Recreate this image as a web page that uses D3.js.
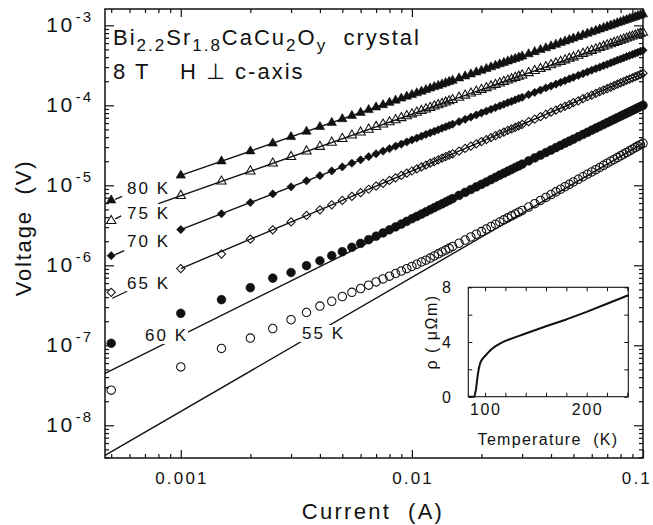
<!DOCTYPE html>
<html>
<head>
<meta charset="utf-8">
<script src="https://cdn.jsdelivr.net/npm/d3@7"></script>
<style>
  body { margin: 0; background: #fff; }
  svg text { font-family: "Liberation Sans", Arial, Helvetica, sans-serif; fill: #111; }
</style>
</head>
<body>
<svg id="chart" width="653" height="525"></svg>
<script>
// ---- data ----
var currents = [0.0005,0.001,0.0015,0.002,0.0025,0.003,0.0035,0.004,0.0045,0.005,
  0.0055,0.006,0.0065,0.007,0.0075,0.008,0.0085,0.009,0.0095,0.01,
  0.0105,0.011,0.0115,0.012,0.0125,0.013,0.0135,0.014,0.0145,0.015,
  0.016,0.017,0.018,0.019,0.02,0.021,0.022,0.023,0.024,0.025,
  0.026,0.027,0.028,0.029,0.03,0.032,0.034,0.036,0.038,0.04,
  0.042,0.044,0.046,0.048,0.05,0.0525,0.055,0.0575,0.06,0.0625,
  0.065,0.0675,0.07,0.0725,0.075,0.0775,0.08,0.0825,0.085,0.0875,
  0.09,0.0925,0.095,0.0975,0.1]

var v80 = [6.5e-6,1.33e-5,2.00e-5,2.67e-5,3.35e-5,4.03e-5,4.70e-5,5.38e-5,6.06e-5,6.74e-5,
  7.41e-5,8.09e-5,8.77e-5,9.46e-5,1.01e-4,1.08e-4,1.15e-4,1.22e-4,1.29e-4,1.35e-4,
  1.42e-4,1.49e-4,1.56e-4,1.63e-4,1.70e-4,1.76e-4,1.83e-4,1.90e-4,1.97e-4,2.04e-4,
  2.18e-4,2.31e-4,2.45e-4,2.59e-4,2.72e-4,2.86e-4,3.00e-4,3.14e-4,3.27e-4,3.41e-4,
  3.55e-4,3.69e-4,3.82e-4,3.96e-4,4.10e-4,4.37e-4,4.65e-4,4.93e-4,5.20e-4,5.48e-4,
  5.75e-4,6.03e-4,6.31e-4,6.58e-4,6.86e-4,7.20e-4,7.55e-4,7.90e-4,8.24e-4,8.59e-4,
  8.93e-4,9.28e-4,9.63e-4,9.97e-4,1.03e-3,1.07e-3,1.10e-3,1.14e-3,1.17e-3,1.21e-3,
  1.24e-3,1.27e-3,1.31e-3,1.34e-3,1.38e-3]

var v75 = [3.6e-6,7.4e-6,1.12e-5,1.50e-5,1.88e-5,2.27e-5,2.66e-5,3.04e-5,3.43e-5,3.82e-5,
  4.21e-5,4.60e-5,4.99e-5,5.39e-5,5.78e-5,6.17e-5,6.56e-5,6.96e-5,7.35e-5,7.75e-5,
  8.14e-5,8.54e-5,8.93e-5,9.33e-5,9.73e-5,1.01e-4,1.05e-4,1.09e-4,1.13e-4,1.17e-4,
  1.25e-4,1.33e-4,1.41e-4,1.49e-4,1.57e-4,1.65e-4,1.73e-4,1.81e-4,1.89e-4,1.97e-4,
  2.05e-4,2.13e-4,2.21e-4,2.29e-4,2.38e-4,2.54e-4,2.70e-4,2.86e-4,3.02e-4,3.19e-4,
  3.35e-4,3.51e-4,3.67e-4,3.84e-4,4.00e-4,4.20e-4,4.41e-4,4.61e-4,4.82e-4,5.02e-4,
  5.23e-4,5.43e-4,5.64e-4,5.84e-4,6.05e-4,6.25e-4,6.46e-4,6.67e-4,6.87e-4,7.08e-4,
  7.28e-4,7.49e-4,7.70e-4,7.90e-4,8.11e-4]

var v70 = [1.32e-6,2.80e-6,4.41e-6,6.09e-6,7.81e-6,9.58e-6,1.14e-5,1.32e-5,1.51e-5,1.70e-5,
  1.89e-5,2.08e-5,2.28e-5,2.48e-5,2.67e-5,2.87e-5,3.08e-5,3.28e-5,3.48e-5,3.69e-5,
  3.90e-5,4.11e-5,4.32e-5,4.53e-5,4.74e-5,4.95e-5,5.17e-5,5.38e-5,5.60e-5,5.81e-5,
  6.25e-5,6.69e-5,7.13e-5,7.57e-5,8.02e-5,8.47e-5,8.93e-5,9.38e-5,9.84e-5,1.03e-4,
  1.08e-4,1.12e-4,1.17e-4,1.22e-4,1.26e-4,1.36e-4,1.45e-4,1.55e-4,1.65e-4,1.74e-4,
  1.84e-4,1.94e-4,2.04e-4,2.14e-4,2.24e-4,2.36e-4,2.49e-4,2.62e-4,2.75e-4,2.87e-4,
  3.00e-4,3.13e-4,3.26e-4,3.39e-4,3.53e-4,3.66e-4,3.79e-4,3.92e-4,4.06e-4,4.19e-4,
  4.32e-4,4.46e-4,4.59e-4,4.73e-4,4.87e-4]

var v65 = [4.6e-7,9.1e-7,1.38e-6,2.12e-6,2.78e-6,3.48e-6,4.20e-6,4.94e-6,5.70e-6,6.48e-6,
  7.28e-6,8.10e-6,8.93e-6,9.77e-6,1.06e-5,1.15e-5,1.24e-5,1.33e-5,1.42e-5,1.51e-5,
  1.60e-5,1.70e-5,1.79e-5,1.89e-5,1.98e-5,2.08e-5,2.18e-5,2.28e-5,2.38e-5,2.48e-5,
  2.68e-5,2.89e-5,3.09e-5,3.30e-5,3.52e-5,3.73e-5,3.95e-5,4.17e-5,4.39e-5,4.62e-5,
  4.85e-5,5.07e-5,5.30e-5,5.54e-5,5.77e-5,6.24e-5,6.72e-5,7.21e-5,7.70e-5,8.20e-5,
  8.70e-5,9.21e-5,9.72e-5,1.02e-4,1.08e-4,1.14e-4,1.21e-4,1.28e-4,1.34e-4,1.41e-4,
  1.48e-4,1.55e-4,1.62e-4,1.69e-4,1.76e-4,1.84e-4,1.91e-4,1.98e-4,2.06e-4,2.13e-4,
  2.20e-4,2.28e-4,2.35e-4,2.43e-4,2.51e-4]

var v60 = [1.06e-7,2.51e-7,3.72e-7,5.25e-7,6.92e-7,8.13e-7,9.89e-7,1.14e-6,1.32e-6,1.48e-6,
  1.68e-6,1.88e-6,2.09e-6,2.31e-6,2.54e-6,2.78e-6,3.02e-6,3.28e-6,3.54e-6,3.82e-6,
  4.09e-6,4.37e-6,4.66e-6,4.95e-6,5.25e-6,5.56e-6,5.86e-6,6.18e-6,6.50e-6,6.82e-6,
  7.48e-6,8.16e-6,8.86e-6,9.57e-6,1.03e-5,1.10e-5,1.18e-5,1.26e-5,1.34e-5,1.42e-5,
  1.50e-5,1.58e-5,1.67e-5,1.75e-5,1.84e-5,2.02e-5,2.20e-5,2.38e-5,2.57e-5,2.76e-5,
  2.96e-5,3.16e-5,3.36e-5,3.57e-5,3.78e-5,4.05e-5,4.32e-5,4.60e-5,4.89e-5,5.17e-5,
  5.47e-5,5.76e-5,6.07e-5,6.37e-5,6.68e-5,7.00e-5,7.32e-5,7.64e-5,7.97e-5,8.30e-5,
  8.63e-5,8.97e-5,9.32e-5,9.66e-5,1.00e-4]

var v55 = [2.75e-8,5.37e-8,9.12e-8,1.23e-7,1.62e-7,2.09e-7,2.57e-7,3.09e-7,3.55e-7,4.07e-7,
  4.59e-7,5.12e-7,5.65e-7,6.20e-7,6.76e-7,7.32e-7,7.90e-7,8.48e-7,9.08e-7,9.68e-7,
  1.03e-6,1.10e-6,1.16e-6,1.23e-6,1.31e-6,1.39e-6,1.47e-6,1.55e-6,1.63e-6,1.72e-6,
  1.89e-6,2.07e-6,2.26e-6,2.45e-6,2.64e-6,2.84e-6,3.05e-6,3.26e-6,3.48e-6,3.70e-6,
  3.92e-6,4.15e-6,4.38e-6,4.62e-6,4.86e-6,5.35e-6,5.90e-6,6.47e-6,7.06e-6,7.67e-6,
  8.29e-6,8.94e-6,9.60e-6,1.03e-5,1.10e-5,1.19e-5,1.28e-5,1.38e-5,1.47e-5,1.57e-5,
  1.67e-5,1.78e-5,1.89e-5,2.00e-5,2.11e-5,2.22e-5,2.34e-5,2.46e-5,2.58e-5,2.70e-5,
  2.83e-5,2.96e-5,3.09e-5,3.22e-5,3.35e-5]

// straight power-law fits, [current, voltage] end points
var fit80 = [[0.001, 1.33e-5], [0.1, 1.38e-3]]
var fit75 = [[0.0008, 5.9e-6], [0.1, 8.11e-4]]
var fit70 = [[0.001, 2.8e-6], [0.1, 4.87e-4]]
var fit65 = [[0.001, 9.1e-7], [0.1, 2.51e-4]]
var fit60 = [[0.00047, 4.47e-8], [0.1, 9.72e-5]]
var fit55 = [[0.00047, 4.2e-9], [0.1, 3.35e-5]]

var tempLabels = ['80 K', '75 K', '70 K', '65 K', '60 K', '55 K']

var xTickValues = [0.001, 0.01, 0.1]
var xTickLabels = ['0.001', '0.01', '0.1']
var yTickValues = [1e-8, 1e-7, 1e-6, 1e-5, 1e-4, 1e-3]
var yTickExps = ['-8', '-7', '-6', '-5', '-4', '-3']

// inset: resistivity vs temperature
var insetT   = [84, 89.5, 91, 92, 93, 94, 95, 96, 98, 100, 103, 106, 110, 115, 120, 130, 140, 160, 180, 200, 220, 241]
var insetRho = [0, 0, 0.5, 1.1, 1.7, 2.1, 2.4, 2.6, 2.82, 2.98, 3.22, 3.45, 3.68, 3.9, 4.08, 4.36, 4.62, 5.15, 5.65, 6.2, 6.8, 7.42]
var insetXTicks = [100, 120, 140, 160, 180, 200, 220, 240]
var insetXLabels = [100, 200]
var insetYTicks = [0, 2, 4, 6, 8]
var insetYLabels = [0, 4, 8]

// ---- layout ----
var W = 653
var ink = '#111'
var svg = d3.select('#chart')

var x = d3.scaleLog().domain([0.00047, 0.1]).range([105, 643])
var y = d3.scaleLog().domain([3.9e-9, 1.6e-3]).range([458, 9])

var isDecade = v => Math.abs(Math.log10(v) - Math.round(Math.log10(v))) < 1e-9
var xMinor = x.ticks().filter(v => !isDecade(v))
var yMinor = y.ticks().filter(v => !isDecade(v))

// frame
svg.append('rect')
    .attr('x', 105).attr('y', 9)
    .attr('width', 643 - 105).attr('height', 458 - 9)
    .attr('fill', 'none').attr('stroke', ink).attr('stroke-width', 1.5)

// inward ticks on all four sides
var axesG = svg.append('g')
function addTicks(gen, tr, vals, len) {
    axesG.append('g')
        .attr('transform', tr)
        .call(gen.tickValues(vals).tickSize(-len).tickSizeOuter(0).tickFormat(''))
        .call(g => g.select('.domain').remove())
        .selectAll('line').attr('stroke', ink).attr('stroke-width', 1.2)
}
addTicks(d3.axisBottom(x), 'translate(0,458)', xMinor, 4)
addTicks(d3.axisBottom(x), 'translate(0,458)', xTickValues, 8)
addTicks(d3.axisTop(x), 'translate(0,9)', xMinor, 4)
addTicks(d3.axisTop(x), 'translate(0,9)', xTickValues, 8)
addTicks(d3.axisLeft(y), 'translate(105,0)', yMinor, 4)
addTicks(d3.axisLeft(y), 'translate(105,0)', yTickValues, 9)
addTicks(d3.axisRight(y), 'translate(643,0)', yMinor, 4)
addTicks(d3.axisRight(y), 'translate(643,0)', yTickValues, 9)

// tick labels (the last one is kept inside the picture)
svg.append('g').selectAll('text')
    .data(xTickValues)
  .join('text')
    .attr('x', d => x(d) + 1.2)
    .attr('y', 484)
    .attr('text-anchor', 'middle')
    .style('font-size', '17px')
    .style('letter-spacing', '2.2px')
    .text((d, i) => xTickLabels[i])
    .each(function() {
        var w = this.getComputedTextLength()
        var cx = +this.getAttribute('x')
        if (cx + w / 2 > W - 1) this.setAttribute('x', W - 1 - w / 2)
    })

svg.append('g').selectAll('text')
    .data(yTickValues)
  .join('text')
    .attr('x', 93)
    .attr('y', d => y(d) + 7)
    .attr('text-anchor', 'end')
    .each(function(d, i) {
        var t = d3.select(this)
        t.append('tspan').style('font-size', '21px').style('letter-spacing', '2.5px').text('10')
        t.append('tspan').attr('dy', -10).attr('dx', 1)
            .style('font-size', '15px').style('letter-spacing', '2px').text(yTickExps[i])
    })

// axis titles
svg.append('text')
    .attr('x', 373).attr('y', 519)
    .attr('text-anchor', 'middle')
    .attr('xml:space', 'preserve').style('white-space', 'pre')
    .style('font-size', '22px').style('letter-spacing', '2.3px')
    .text('Current  (A)')

svg.append('text')
    .attr('transform', 'translate(31,228) rotate(-90)')
    .attr('text-anchor', 'middle')
    .attr('xml:space', 'preserve').style('white-space', 'pre')
    .style('font-size', '22px').style('letter-spacing', '1.8px')
    .text('Voltage  (V)')

// sample annotation
var note = svg.append('text')
    .attr('x', 113).attr('y', 45)
    .style('font-size', '22px').style('letter-spacing', '2px')
    .attr('xml:space', 'preserve').style('white-space', 'pre')
var parts = [['Bi', 0], ['2.2', 1], ['Sr', 0], ['1.8', 1], ['CaCu', 0], ['2', 1], ['O', 0], ['y', 1], ['  crystal', 0]]
var prevSub = 0
parts.forEach(p => {
    note.append('tspan')
        .attr('dy', (p[1] - prevSub) * 6)
        .style('font-size', p[1] ? '17px' : '22px')
        .text(p[0])
    prevSub = p[1]
})
var note2 = svg.append('text')
    .attr('y', 79)
    .style('font-size', '22px').style('letter-spacing', '2px')
note2.append('tspan').attr('x', 113).text('8 T')
note2.append('tspan').attr('x', 180).text('H \u22A5 c-axis')

// ---- series ----
var series = [
    { name: '80 K', v: v80, fit: fit80, sym: d3.symbolTriangle, size: 38, filled: true,  rot: 0 },
    { name: '75 K', v: v75, fit: fit75, sym: d3.symbolTriangle, size: 38, filled: false, rot: 0 },
    { name: '70 K', v: v70, fit: fit70, sym: d3.symbolSquare,   size: 34, filled: true,  rot: 45 },
    { name: '65 K', v: v65, fit: fit65, sym: d3.symbolSquare,   size: 34, filled: false, rot: 45 },
    { name: '60 K', v: v60, fit: fit60, sym: d3.symbolCircle,   size: 60, filled: true,  rot: 0 },
    { name: '55 K', v: v55, fit: fit55, sym: d3.symbolCircle,   size: 56, filled: false, rot: 0 }
]

var line = d3.line().x(d => x(d[0])).y(d => y(d[1]))

svg.append('g').selectAll('path')
    .data(series)
  .join('path')
    .attr('d', s => line(s.fit))
    .attr('fill', 'none')
    .attr('stroke', ink)
    .attr('stroke-width', 1.4)

series.forEach(s => {
    var path = d3.symbol().type(s.sym).size(s.size)()
    svg.append('g').selectAll('path')
        .data(currents.map((c, i) => [c, s.v[i]]))
      .join('path')
        .attr('d', path)
        .attr('transform', d => 'translate(' + x(d[0]) + ',' + y(d[1]) + ') rotate(' + s.rot + ')')
        .attr('fill', s.filled ? ink : 'none')
        .attr('stroke', ink)
        .attr('stroke-width', s.filled ? 0.6 : 1.05)
})

// temperature labels, with short leaders to the lowest-current point
var labelLayout = {
    '80 K': { x: 127, y: 188, lead: [4, -1, 11, -4] },
    '75 K': { x: 127, y: 213, lead: [4, -2, 10, -5] },
    '70 K': { x: 127, y: 241, lead: [4, -1, 13, -5] },
    '65 K': { x: 127, y: 283, lead: [1, 6, 16, -1] },
    '60 K': { x: 145, y: 335, knock: true },
    '55 K': { x: 302, y: 333, knock: true }
}

tempLabels.forEach((name, i) => {
    var L = labelLayout[name]
    var g = svg.append('g')
    var t = g.append('text')
        .attr('x', L.x).attr('y', L.y + 6)
        .style('font-size', '17px').style('letter-spacing', '2px')
        .text(name)
    if (L.knock) {
        var b = t.node().getBBox()
        g.insert('rect', 'text')
            .attr('x', b.x - 2).attr('y', b.y + 1)
            .attr('width', b.width + 2).attr('height', b.height - 2)
            .attr('fill', '#fff')
    }
    if (L.lead) {
        var s = series[i]
        var px = x(currents[0]), py = y(s.v[0])
        svg.append('line')
            .attr('x1', px + L.lead[0]).attr('y1', py + L.lead[1])
            .attr('x2', px + L.lead[2]).attr('y2', py + L.lead[3])
            .attr('stroke', ink).attr('stroke-width', 1.3)
    }
})

// ---- inset ----
var xi = d3.scaleLinear().domain([83.5, 241]).range([468.3, 628.3])
var yi = d3.scaleLinear().domain([0, 8]).range([396.7, 287.3])
var ig = svg.append('g')

ig.append('rect')
    .attr('x', 468.3).attr('y', 287.3)
    .attr('width', 628.3 - 468.3).attr('height', 396.7 - 287.3)
    .attr('fill', '#fff').attr('stroke', ink).attr('stroke-width', 1.1)

function addInsetTicks(gen, tr, vals) {
    ig.append('g')
        .attr('transform', tr)
        .call(gen.tickValues(vals).tickSize(-4).tickSizeOuter(0).tickFormat(''))
        .call(g => g.select('.domain').remove())
        .selectAll('line').attr('stroke', ink).attr('stroke-width', 1)
}
addInsetTicks(d3.axisBottom(xi), 'translate(0,396.7)', insetXTicks)
addInsetTicks(d3.axisTop(xi), 'translate(0,287.3)', insetXTicks)
addInsetTicks(d3.axisLeft(yi), 'translate(468.3,0)', insetYTicks)
addInsetTicks(d3.axisRight(yi), 'translate(628.3,0)', insetYTicks)

ig.append('path')
    .datum(insetT.map((t, i) => [t, insetRho[i]]))
    .attr('d', d3.line().x(d => xi(d[0])).y(d => yi(d[1])))
    .attr('fill', 'none').attr('stroke', ink)
    .attr('stroke-width', 2).attr('stroke-linejoin', 'round')

ig.selectAll('.ixl')
    .data(insetXLabels)
  .join('text')
    .attr('x', d => xi(d) + 0.8)
    .attr('y', 415)
    .attr('text-anchor', 'middle')
    .style('font-size', '16px').style('letter-spacing', '1.6px')
    .text(d => d)

ig.selectAll('.iyl')
    .data(insetYLabels)
  .join('text')
    .attr('x', 451)
    .attr('y', d => yi(d) + 6)
    .attr('text-anchor', 'end')
    .style('font-size', '16px')
    .text(d => d)

ig.append('text')
    .attr('x', 548).attr('y', 445)
    .attr('text-anchor', 'middle')
    .attr('xml:space', 'preserve').style('white-space', 'pre')
    .style('font-size', '16px').style('letter-spacing', '1.3px')
    .text('Temperature  (K)')

ig.append('text')
    .attr('transform', 'translate(437,332) rotate(-90)')
    .attr('text-anchor', 'middle')
    .attr('xml:space', 'preserve').style('white-space', 'pre')
    .style('font-size', '16px').style('letter-spacing', '1.5px')
    .text('\u03C1 ( \u03BC\u03A9m)')
</script>
</body>
</html>
